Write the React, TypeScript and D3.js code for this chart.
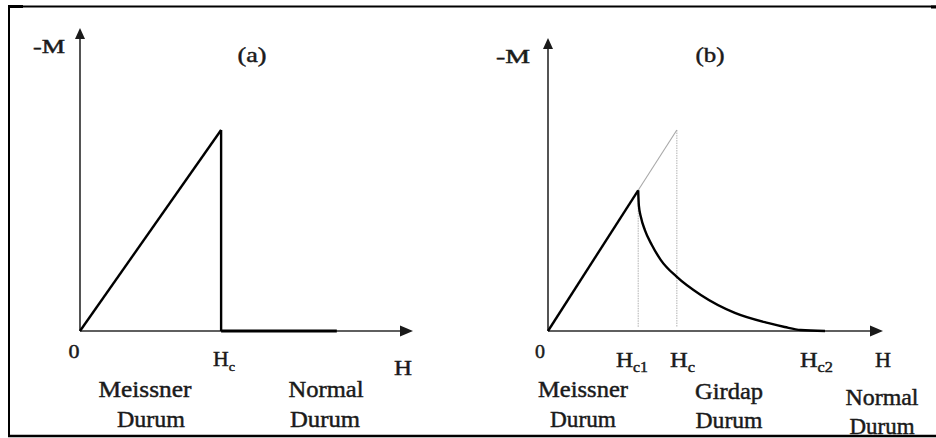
import React from "react";
import * as d3 from "d3";

// ---- data (in units of Hc and M(Hc)) ----
const HC = 1;
const HC1 = 0.7;
const HC2 = 2.15;
const NORMAL_END_A = 1.82;
const AXIS_MAX_A_H = 2.36;
const AXIS_MAX_A_M = 1.507;
const AXIS_MAX_B_H = 2.6;
const AXIS_MAX_B_M = 1.458;

const meissnerH = [0, HC];
const meissnerM = [0, HC];
const vortexH = [0.7, 0.705, 0.721, 0.752, 0.806, 0.876, 1.0, 1.186, 1.45, 1.705, 1.837, 1.961, 2.15];
const vortexM = [0.7, 0.625, 0.567, 0.502, 0.428, 0.353, 0.269, 0.179, 0.09, 0.04, 0.02, 0.005, 0];

const panelTitles = ["(a)", "(b)"];
const stateLabelsA = [["Meissner", "Durum"], ["Normal", "Durum"]];
const stateLabelsB = [["Meissner", "Durum"], ["Girdap", "Durum"], ["Normal", "Durum"]];

const FONT = "'Liberation Serif', 'Times New Roman', serif";
const TXT = "#1a1a1a";

type P = [number, number];

function Label(props: {
  x: number; y: number; text: string; size: number; len?: number; anchor?: string; sub?: string; subSize?: number;
}) {
  const { x, y, text, size, len, anchor = "start", sub, subSize } = props;
  return (
    <text
      x={x}
      y={y}
      fontFamily={FONT}
      fontSize={size}
      fill={TXT}
      stroke={TXT}
      strokeWidth={0.45}
      textAnchor={anchor}
      textLength={len}
      lengthAdjust={len ? "spacingAndGlyphs" : undefined}
    >
      {text}
      {sub ? (
        <tspan fontSize={subSize ?? size * 0.65} dy={5}>
          {sub}
        </tspan>
      ) : null}
    </text>
  );
}

function Arrow({ tip, dir }: { tip: P; dir: "up" | "right" }) {
  const [x, y] = tip;
  const pts =
    dir === "up"
      ? `${x},${y} ${x - 5},${y + 11} ${x + 5},${y + 11}`
      : `${x},${y} ${x - 13},${y - 5.5} ${x - 13},${y + 5.5}`;
  return <polygon points={pts} fill="#1a1a1a" />;
}

export default function App() {
  const xa = d3.scaleLinear().domain([0, AXIS_MAX_A_H]).range([80, 413]);
  const ya = d3.scaleLinear().domain([0, AXIS_MAX_A_M]).range([331, 28]);
  const xb = d3.scaleLinear().domain([0, AXIS_MAX_B_H]).range([548, 883]);
  const yb = d3.scaleLinear().domain([0, AXIS_MAX_B_M]).range([331, 38]);

  const lineA = d3.line<P>().x((d) => xa(d[0])).y((d) => ya(d[1]));
  const lineB = d3.line<P>().x((d) => xb(d[0])).y((d) => yb(d[1]));
  const curveB = d3
    .line<P>()
    .x((d) => xb(d[0]))
    .y((d) => yb(d[1]))
    .curve(d3.curveMonotoneX);

  const meissnerPts: P[] = meissnerH.map((h, i) => [h, meissnerM[i]]);
  const meissnerB: P[] = [
    [0, 0],
    [HC1, HC1],
  ];
  const extB: P[] = [
    [HC1, HC1],
    [HC, HC],
  ];
  const vortexPts: P[] = vortexH.map((h, i) => [h, vortexM[i]]);

  const axisStroke = "#2a2a2a";

  return (
    <svg width={936} height={438} style={{ position: "absolute", left: 0, top: 0 }}>
      <rect width={936} height={438} fill="#fff" />
      {/* frame */}
      <line x1={8} y1={6.5} x2={936} y2={6.5} stroke="#000" strokeWidth={2} />
      <line x1={9} y1={6} x2={9} y2={437} stroke="#000" strokeWidth={2} />
      <rect x={8} y={5} width={15} height={3} fill="#000" />
      <rect x={931} y={5.5} width={5} height={3} fill="#000" />

      {/* ---------- panel (a) ---------- */}
      <line x1={xa(0)} y1={ya(0)} x2={xa(0)} y2={ya(AXIS_MAX_A_M) + 6} stroke={axisStroke} strokeWidth={1.6} />
      <Arrow tip={[xa(0), ya(AXIS_MAX_A_M)]} dir="up" />
      <line x1={xa(0)} y1={ya(0)} x2={xa(AXIS_MAX_A_H) - 8} y2={ya(0)} stroke={axisStroke} strokeWidth={1.6} />
      <Arrow tip={[xa(AXIS_MAX_A_H), ya(0)]} dir="right" />
      <path d={lineA(meissnerPts) ?? ""} fill="none" stroke="#000" strokeWidth={2.4} />
      <path
        d={lineA([
          [HC, HC],
          [HC, 0],
        ]) ?? ""}
        fill="none"
        stroke="#000"
        strokeWidth={2.4}
      />
      <path
        d={lineA([
          [HC, 0],
          [NORMAL_END_A, 0],
        ]) ?? ""}
        fill="none"
        stroke="#000"
        strokeWidth={3}
      />

      <Label x={33} y={53} text="-M" size={18} len={32} />
      <Label x={252} y={62} text={panelTitles[0]} size={21} len={29} anchor="middle" />
      <Label x={74} y={358} text="0" size={19} len={11} anchor="middle" />
      <Label x={xa(HC) - 8} y={366} text="H" sub="c" size={20} subSize={13} len={22} />
      <Label x={394} y={375} text="H" size={22} len={18} />
      <Label x={145} y={397} text={stateLabelsA[0][0]} size={23} len={93} anchor="middle" />
      <Label x={151} y={427} text={stateLabelsA[0][1]} size={23} len={68} anchor="middle" />
      <Label x={326} y={397} text={stateLabelsA[1][0]} size={23} len={75} anchor="middle" />
      <Label x={325} y={427} text={stateLabelsA[1][1]} size={23} len={70} anchor="middle" />

      {/* ---------- panel (b) ---------- */}
      <line x1={xb(0)} y1={yb(0)} x2={xb(0)} y2={yb(AXIS_MAX_B_M) + 6} stroke={axisStroke} strokeWidth={1.6} />
      <Arrow tip={[xb(0), yb(AXIS_MAX_B_M)]} dir="up" />
      <line x1={xb(0)} y1={yb(0)} x2={xb(AXIS_MAX_B_H) - 8} y2={yb(0)} stroke={axisStroke} strokeWidth={1.6} />
      <Arrow tip={[xb(AXIS_MAX_B_H), yb(0)]} dir="right" />

      {/* guides */}
      <line x1={xb(HC1)} y1={yb(HC1)} x2={xb(HC1)} y2={yb(0) - 4} stroke="#b0b0b0" strokeWidth={1} strokeDasharray="1.5,1" />
      <line x1={xb(HC)} y1={yb(HC)} x2={xb(HC)} y2={yb(0) - 4} stroke="#b0b0b0" strokeWidth={1} strokeDasharray="1.5,1" />
      <path d={lineB(extB) ?? ""} fill="none" stroke="#a8a8a8" strokeWidth={1.1} />

      <path d={lineB(meissnerB) ?? ""} fill="none" stroke="#000" strokeWidth={2.4} />
      <path d={curveB(vortexPts) ?? ""} fill="none" stroke="#000" strokeWidth={2.4} />

      <Label x={496} y={63} text="-M" size={18} len={34} />
      <Label x={710} y={62} text={panelTitles[1]} size={21} len={29} anchor="middle" />
      <Label x={540} y={358} text="0" size={19} len={10} anchor="middle" />
      <Label x={616} y={367} text="H" sub="c1" size={21} subSize={14} len={32} />
      <Label x={670} y={367} text="H" sub="c" size={21} subSize={14} len={25} />
      <Label x={800} y={367} text="H" sub="c2" size={21} subSize={14} len={33} />
      <Label x={875} y={367} text="H" size={22} len={16} />
      <Label x={583} y={397} text={stateLabelsB[0][0]} size={23} len={90} anchor="middle" />
      <Label x={583} y={427} text={stateLabelsB[0][1]} size={23} len={66} anchor="middle" />
      <Label x={729} y={399} text={stateLabelsB[1][0]} size={23} len={68} anchor="middle" />
      <Label x={729} y={428} text={stateLabelsB[1][1]} size={23} len={67} anchor="middle" />
      <Label x={882} y={405} text={stateLabelsB[2][0]} size={23} len={73} anchor="middle" />
      <Label x={882} y={434} text={stateLabelsB[2][1]} size={23} len={65} anchor="middle" />
      {/* bottom border drawn over last label, as in reference */}
      <line x1={8} y1={436} x2={936} y2={436} stroke="#000" strokeWidth={2.5} />
    </svg>
  );
}
